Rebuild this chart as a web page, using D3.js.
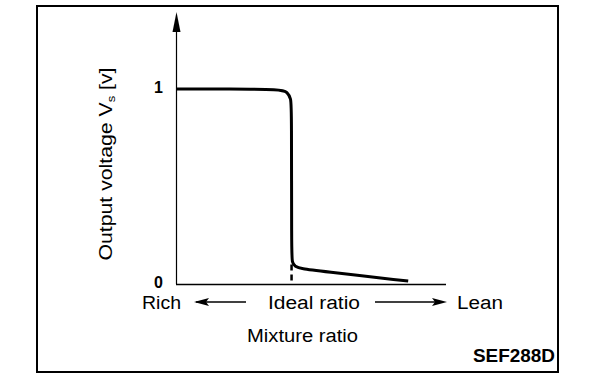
<!DOCTYPE html>
<html><head><meta charset="utf-8">
<script src="https://cdn.jsdelivr.net/npm/d3@7"></script>
<style>body{margin:0;background:#fff}svg{display:block}text{font-family:"Liberation Sans",Arial,sans-serif;fill:#000}</style>
</head><body><svg id="c" width="608" height="380"></svg>
<script>
const curveX = [0, 2.0, 3.9, 4.12, 4.26, 4.28, 4.28, 4.3, 4.4, 4.65, 5.3, 8.6];
const curveY = [1.0, 1.0, 0.998, 0.985, 0.95, 0.9, 0.16, 0.11, 0.09, 0.078, 0.067, 0.015];
const yTicks = [0, 1];
const yTickLabels = ["0", "1"];
const idealX = 4.28;
const xLabels = ["Rich", "Ideal ratio", "Lean"];

const svg = d3.select("#c");
// frame
svg.append("rect").attr("x",37).attr("y",6).attr("width",521).attr("height",366)
  .attr("fill","none").attr("stroke","#000").attr("stroke-width",2);

const x = d3.scaleLinear().domain([0,10]).range([176,446]);
const y = d3.scaleLinear().domain([0,1]).range([284,89]);

// axes
svg.append("line").attr("x1",x(0)).attr("x2",x(10)).attr("y1",y(0)+0.5).attr("y2",y(0)+0.5).attr("stroke","#000").attr("stroke-width",1.5);
svg.append("line").attr("x1",x(0)+0.5).attr("x2",x(0)+0.5).attr("y1",y(0)).attr("y2",24).attr("stroke","#000").attr("stroke-width",1.2);
svg.append("path").attr("d",`M${x(0)+0.5},12 L${x(0)-3.5},32 L${x(0)+4.5},32 Z`).attr("fill","#000");

// tick labels
svg.selectAll("text.yt").data(yTicks).join("text").attr("class","yt")
  .attr("x",x(0)-13).attr("y",d=>y(d)-2).attr("dy","0.36em").attr("text-anchor","end")
  .attr("font-size",16).attr("font-weight","bold").text((d,i)=>yTickLabels[i]);

// dashed ideal line
svg.append("line").attr("x1",x(idealX)).attr("x2",x(idealX)).attr("y1",y(0.1)).attr("y2",y(0))
  .attr("stroke","#000").attr("stroke-width",2.5).attr("stroke-dasharray","6,4");

// curve
const pts = curveX.map((v,i)=>[v,curveY[i]]);
svg.append("path").datum(pts)
  .attr("d", d3.line().x(d=>x(d[0])).y(d=>y(d[1])).curve(d3.curveBasis))
  .attr("fill","none").attr("stroke","#000").attr("stroke-width",3);

// y label
const yl = svg.append("text").attr("transform","translate(112,164) rotate(-90)")
  .attr("text-anchor","middle").attr("font-size",18)
  .attr("textLength",193).attr("lengthAdjust","spacingAndGlyphs");
yl.append("tspan").text("Output voltage V");
yl.append("tspan").attr("font-size",11).attr("dy",3).text("s");
yl.append("tspan").attr("dy",-3).text(" [v]");

// x labels
const ly = 309;
const fitText = (tx, t, w) => svg.append("text").attr("x",tx).attr("y",ly).attr("font-size",18)
  .attr("textLength",w).attr("lengthAdjust","spacingAndGlyphs").text(t);
fitText(142, xLabels[0], 39);
fitText(268, xLabels[1], 92);
fitText(457, xLabels[2], 46);
// arrows
svg.append("line").attr("x1",196).attr("x2",246).attr("y1",ly-7).attr("y2",ly-7).attr("stroke","#000").attr("stroke-width",1.5);
svg.append("path").attr("d",`M194,${ly-7} L209,${ly-11} L206,${ly-7} L209,${ly-3} Z`).attr("fill","#000");
svg.append("line").attr("x1",375).attr("x2",440).attr("y1",ly-7).attr("y2",ly-7).attr("stroke","#000").attr("stroke-width",1.5);
svg.append("path").attr("d",`M447,${ly-7} L432,${ly-11} L435,${ly-7} L432,${ly-3} Z`).attr("fill","#000");

svg.append("text").attr("x",247).attr("y",342).attr("font-size",18)
  .attr("textLength",111).attr("lengthAdjust","spacingAndGlyphs").text("Mixture ratio");
svg.append("text").attr("x",473).attr("y",362).attr("font-size",18).attr("font-weight","bold")
  .attr("textLength",82).attr("lengthAdjust","spacingAndGlyphs").text("SEF288D");
</script></body></html>
